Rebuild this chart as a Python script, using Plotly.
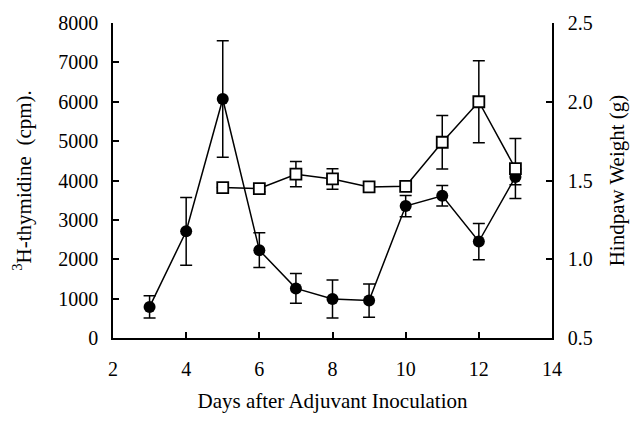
import plotly.graph_objects as go

days_cpm = [3, 4, 5, 6, 7, 8, 9, 10, 11, 12, 13]
cpm = [790, 2710, 6070, 2230, 1260, 990, 950, 3350, 3610, 2450, 4090]
cpm_err = [280, 860, 1480, 440, 380, 480, 420, 270, 260, 460, 200]

days_wt = [5, 6, 7, 8, 9, 10, 11, 12, 13]
weight = [1.455, 1.449, 1.54, 1.51, 1.459, 1.463, 1.743, 2.0, 1.576]
weight_err = [0.0, 0.02, 0.08, 0.065, 0.0, 0.0, 0.17, 0.26, 0.19]

x_ticks = [2, 4, 6, 8, 10, 12, 14]
y1_ticks = [0, 1000, 2000, 3000, 4000, 5000, 6000, 7000, 8000]
y2_ticks = [0.5, 1.0, 1.5, 2.0, 2.5]

FONT = "Liberation Serif"

fig = go.Figure()

fig.add_trace(go.Scatter(
    x=days_wt, y=weight, yaxis="y2", mode="lines+markers",
    line=dict(color="black", width=1.5),
    marker=dict(symbol="square", size=11, color="white", line=dict(color="black", width=1.8)),
    error_y=dict(type="data", array=weight_err, visible=True, color="black", thickness=1.5, width=6),
    showlegend=False,
))

fig.add_trace(go.Scatter(
    x=days_cpm, y=cpm, mode="lines+markers",
    line=dict(color="black", width=1.5),
    marker=dict(symbol="circle", size=12, color="black"),
    error_y=dict(type="data", array=cpm_err, visible=True, color="black", thickness=1.5, width=6),
    showlegend=False,
))

axis_common = dict(
    showgrid=False, zeroline=False, showline=True, linecolor="black", linewidth=1.5,
    ticks="inside", ticklen=6, tickcolor="black", tickwidth=1.5,
    tickfont=dict(family=FONT, size=20, color="black"),
)

fig.update_layout(
    width=637, height=422,
    margin=dict(l=113, r=80, t=16, b=84),
    paper_bgcolor="white", plot_bgcolor="white",
    font=dict(family=FONT, color="black"),
    xaxis=dict(
        range=[2, 14], tickvals=x_ticks, ticklabelstandoff=12,
        title=dict(text="Days after Adjuvant Inoculation", font=dict(family=FONT, size=21), standoff=15),
        **axis_common,
    ),
    yaxis=dict(
        range=[0, 8000], tickvals=y1_ticks, ticklabelstandoff=9,
        title=dict(text="<sup>3</sup>H-thymidine  (cpm).", font=dict(family=FONT, size=21), standoff=21),
        **axis_common,
    ),
    yaxis2=dict(
        range=[0.5, 2.5], tickvals=y2_ticks, tickformat=".1f", overlaying="y", side="right",
        ticklabelstandoff=10,
        title=dict(text="Hindpaw Weight (g)", font=dict(family=FONT, size=21), standoff=18),
        **axis_common,
    ),
)

fig.write_html("out.html")
